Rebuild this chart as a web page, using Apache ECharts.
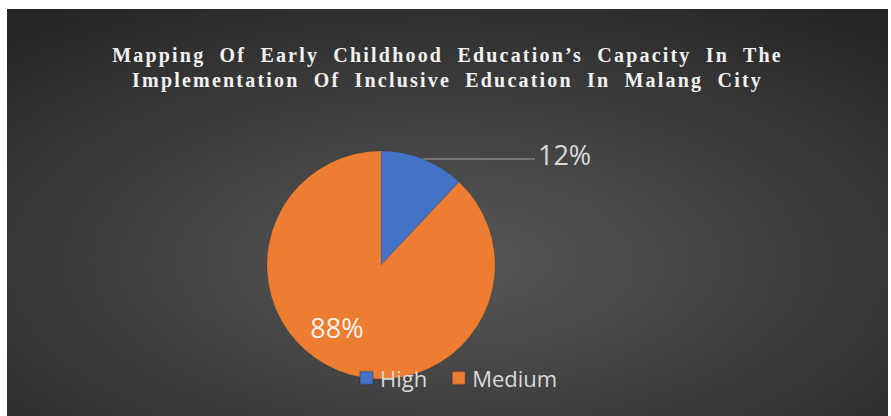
<!DOCTYPE html>
<html>
<head>
<meta charset="utf-8">
<script src="https://cdn.jsdelivr.net/npm/echarts@6/dist/echarts.min.js"></script>
<style>
  html, body { margin: 0; padding: 0; background: #ffffff; }
  #chart { position: absolute; left: 7px; top: 9px; width: 881px; height: 407px; }
  #chart text[style*="Liberation Serif"], #chart text[font-family*="Liberation Serif"] {
    letter-spacing: 2.2px; word-spacing: 7px;
  }
</style>
</head>
<body>
<div id="chart"></div>
<script>
const titleText = "Mapping Of Early Childhood Education\u2019s Capacity In The\nImplementation Of Inclusive Education In Malang City";
const categories = ["High", "Medium"];
const values = [12, 88];
const colors = ["#4472C4", "#ED7D31"];

const chart = echarts.init(document.getElementById('chart'), null, { renderer: 'svg' });

const pieData = categories.map((name, i) => {
  const item = { name: name, value: values[i], itemStyle: { color: colors[i] } };
  if (i === 0) {
    item.label = { position: 'outside', color: '#d9d9d9', offset: [0, -4] };
    item.labelLine = { show: true, length: 0.01, length2: 112, lineStyle: { color: '#a6a6a6', width: 1.2 } };
  } else {
    item.label = { position: 'inside', color: '#f2f2f2', offset: [-22, 7] };
    item.labelLine = { show: false };
  }
  return item;
});

chart.setOption({
  backgroundColor: {
    type: 'radial', x: 0.5, y: 0.62, r: 0.75,
    colorStops: [
      { offset: 0, color: '#585858' },
      { offset: 1, color: '#262626' }
    ]
  },
  animation: false,
  title: {
    text: titleText,
    left: 'center',
    top: 28,
    textStyle: {
      fontFamily: 'Liberation Serif',
      fontWeight: 'bold',
      fontSize: 20,
      lineHeight: 25,
      color: '#f2f2f2'
    }
  },
  legend: {
    data: categories,
    left: 347,
    top: 353,
    itemWidth: 13,
    itemHeight: 13,
    itemGap: 24,
    icon: 'rect',
    textStyle: { color: '#d9d9d9', fontFamily: 'Open Sans', fontSize: 22, padding: [0, 0, 0, 2] }
  },
  series: [{
    type: 'pie',
    center: [374, 256],
    radius: [0, 114],
    startAngle: 90,
    clockwise: true,
    avoidLabelOverlap: false,
    itemStyle: { borderColor: 'rgba(0,0,0,0.15)', borderWidth: 0.6 },
    label: {
      formatter: '{d}%',
      fontFamily: 'Open Sans',
      fontSize: 27,
      distanceToLabelLine: 3
    },
    emphasis: { disabled: true },
    data: pieData
  }]
});
</script>
</body>
</html>
